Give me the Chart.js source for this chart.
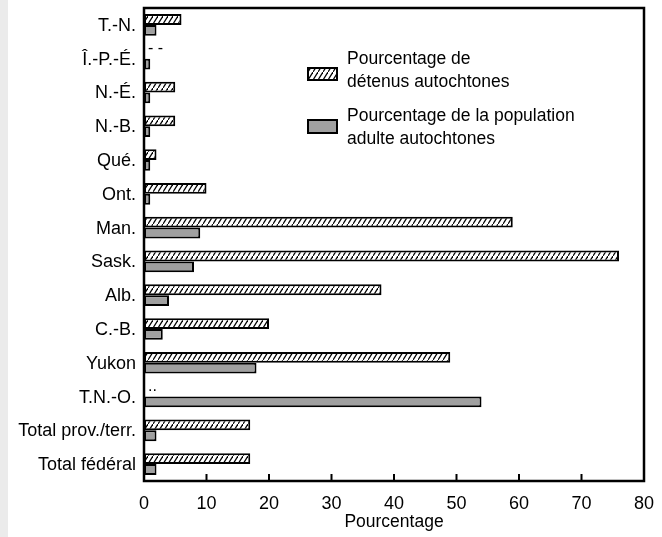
<!DOCTYPE html>
<html>
<head>
<meta charset="utf-8">
<script src="https://cdn.jsdelivr.net/npm/chart.js@4/dist/chart.umd.min.js"></script>
<style>
  body { margin: 0; background: #ebebeb; }
  #wrap { position: absolute; left: 8px; top: 0; width: 654px; height: 537px; background: #fff; }
</style>
</head>
<body>
<div id="wrap"><canvas id="chart" width="654" height="537"></canvas></div>
<script>
// données
const categories = ["T.-N.", "Î.-P.-É.", "N.-É.", "N.-B.", "Qué.", "Ont.", "Man.", "Sask.", "Alb.", "C.-B.", "Yukon", "T.N.-O.", "Total prov./terr.", "Total fédéral"];
const detenus = [6, null, 5, 5, 2, 10, 59, 76, 38, 20, 49, null, 17, 17];
const population = [2, 1, 1, 1, 1, 1, 9, 8, 4, 3, 18, 54, 2, 2];
const missingMarks = [null, "- -", null, null, null, null, null, null, null, null, null, "..", null, null];
const xTicks = [0, 10, 20, 30, 40, 50, 60, 70, 80];

const FONT = "'Liberation Sans', Arial, sans-serif";

// hachures obliques
function makeHatch(ctx) {
  const c = document.createElement("canvas");
  c.width = 5; c.height = 8;
  const g = c.getContext("2d");
  g.fillStyle = "#fff";
  g.fillRect(0, 0, 5, 8);
  g.strokeStyle = "#000";
  g.lineWidth = 1.2;
  g.beginPath();
  g.moveTo(-1, 9.6); g.lineTo(6, -1.6);
  g.stroke();
  return ctx.createPattern(c, "repeat");
}

const ctx = document.getElementById("chart").getContext("2d");
const hatch = makeHatch(ctx);

// cadre, graduations internes, légende et symboles ".."
const decorPlugin = {
  id: "decor",
  afterDatasetsDraw(chart) {
    const { ctx, chartArea: a, scales } = chart;
    ctx.save();
    ctx.strokeStyle = "#000";
    ctx.lineWidth = 2.5;
    ctx.strokeRect(a.left, a.top, a.right - a.left, a.bottom - a.top);

    // graduations vers l'intérieur
    ctx.lineWidth = 2;
    ctx.beginPath();
    xTicks.slice(1, -1).forEach((v) => {
      const x = scales.x.getPixelForValue(v);
      ctx.moveTo(x, a.bottom);
      ctx.lineTo(x, a.bottom - 7);
    });
    ctx.stroke();

    // données manquantes
    ctx.fillStyle = "#000";
    ctx.font = "16px " + FONT;
    ctx.textAlign = "left";
    ctx.textBaseline = "alphabetic";
    missingMarks.forEach((m, i) => {
      if (!m) return;
      const y = scales.y.getPixelForValue(i);
      ctx.fillText(m, scales.x.getPixelForValue(0) + 4, y - 6);
    });

    // légende
    const lx = a.left + 164;
    ctx.lineWidth = 2;
    ctx.fillStyle = hatch;
    ctx.fillRect(lx, 68, 29, 12);
    ctx.strokeRect(lx, 68, 29, 12);
    ctx.fillStyle = "#a0a0a0";
    ctx.fillRect(lx, 120, 29, 13);
    ctx.strokeRect(lx, 120, 29, 13);
    ctx.fillStyle = "#000";
    ctx.font = "17.5px " + FONT;
    ctx.textBaseline = "middle";
    const tx = lx + 39;
    ctx.fillText("Pourcentage de", tx, 59);
    ctx.fillText("détenus autochtones", tx, 82);
    ctx.fillText("Pourcentage de la population", tx, 116);
    ctx.fillText("adulte autochtones", tx, 139);
    ctx.restore();
  },
};

new Chart(ctx, {
  type: "bar",
  data: {
    labels: categories,
    datasets: [
      {
        label: "Pourcentage de détenus autochtones",
        data: detenus,
        backgroundColor: hatch,
        borderColor: "#000",
        borderWidth: 2,
        borderSkipped: false,
      },
      {
        label: "Pourcentage de la population adulte autochtones",
        data: population,
        backgroundColor: "#a0a0a0",
        borderColor: "#000",
        borderWidth: 2,
        borderSkipped: false,
      },
    ],
  },
  options: {
    indexAxis: "y",
    responsive: false,
    animation: false,
    layout: { padding: { top: 8, right: 18, bottom: 0, left: 0 } },
    datasets: { bar: { categoryPercentage: 0.64, barPercentage: 1 } },
    plugins: { legend: { display: false }, tooltip: { enabled: false } },
    scales: {
      x: {
        min: 0,
        max: 80,
        afterBuildTicks: (s) => { s.ticks = xTicks.map((v) => ({ value: v })); },
        afterFit: (s) => { s.height = 56; s.paddingLeft = 0; s.paddingRight = 0; },
        ticks: { color: "#000", font: { family: FONT, size: 18 }, padding: 12, maxRotation: 0 },
        grid: { display: false, drawTicks: false },
        border: { display: true, color: "#000", width: 2 },
        title: {
          display: true,
          text: "Pourcentage",
          color: "#000",
          font: { family: FONT, size: 17.5 },
          padding: { top: 0, bottom: 4 },
        },
      },
      y: {
        afterFit: (s) => { s.width = 136; s.paddingTop = 0; s.paddingBottom = 0; },
        ticks: { color: "#000", font: { family: FONT, size: 18 }, padding: 8, labelOffset: 1 },
        grid: { display: false, drawTicks: false },
        border: { display: true, color: "#000", width: 2 },
      },
    },
  },
  plugins: [decorPlugin],
});
</script>
</body>
</html>
